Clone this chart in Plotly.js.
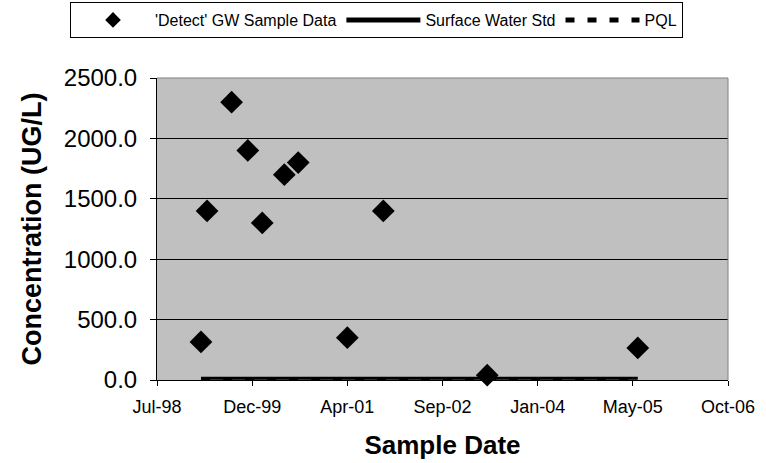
<!DOCTYPE html>
<html>
<head>
<meta charset="utf-8">
<script src="https://cdn.plot.ly/plotly-3.0.1.min.js"></script>
<style>
  html, body { margin: 0; padding: 0; background: #ffffff; }
  #chart { width: 766px; height: 463px; }
</style>
</head>
<body>
<div id="chart"></div>
<script>
// ---- data ----
const sampleDates = ['1999-03-12', '1999-04-13', '1999-08-20', '1999-11-13', '2000-01-28',
                     '2000-05-23', '2000-08-04', '2001-04-19', '2001-10-25', '2003-04-24', '2005-06-23'];
const detectValues = [315, 1400, 2300, 1900, 1300, 1700, 1800, 350, 1400, 40, 265];
const surfaceWaterStd = [15, 15, 15, 15, 15, 15, 15, 15, 15, 15, 15];
const pqlValues = [3, 3, 3, 3, 3, 3, 3, 3, 3, 3, 3];

const seriesNames = ["'Detect' GW Sample Data", 'Surface Water Std', 'PQL'];

const xTickVals = ['1998-07-24', '1999-12-06', '2001-04-19', '2002-09-01', '2004-01-14', '2005-05-28', '2006-10-10'];
const xTickText = ['Jul-98', 'Dec-99', 'Apr-01', 'Sep-02', 'Jan-04', 'May-05', 'Oct-06'];
const yTickVals = [0, 500, 1000, 1500, 2000, 2500];
const yTickText = ['0.0', '500.0', '1000.0', '1500.0', '2000.0', '2500.0'];

const xTitle = 'Sample Date';
const yTitle = 'Concentration (UG/L)';

// ---- chart ----
const FONT = 'Liberation Sans, Arial, Helvetica, sans-serif';

const traces = [
  {
    type: 'scatter', mode: 'markers', name: seriesNames[0],
    x: sampleDates, y: detectValues,
    marker: { symbol: 'diamond', size: 17.5, color: '#000000', line: { width: 0 } },
    cliponaxis: false
  },
  {
    type: 'scatter', mode: 'lines', name: seriesNames[1],
    x: sampleDates, y: surfaceWaterStd,
    line: { color: '#000000', width: 3 }
  },
  {
    type: 'scatter', mode: 'lines', name: seriesNames[2],
    x: sampleDates, y: pqlValues,
    line: { color: '#000000', width: 3, dash: '9px,13px' }
  }
];

const layout = {
  width: 766, height: 463, autosize: false,
  margin: { l: 157, r: 38, t: 78, b: 83, pad: 0, autoexpand: false },
  paper_bgcolor: '#ffffff',
  plot_bgcolor: '#c0c0c0',
  font: { family: FONT, color: '#000000' },
  showlegend: true,
  legend: {
    orientation: 'h',
    xref: 'paper', yref: 'paper',
    x: (70 - 157) / 571, xanchor: 'left',
    y: 378 / 302, yanchor: 'top',
    bgcolor: '#ffffff', bordercolor: '#000000', borderwidth: 1,
    font: { family: FONT, size: 16, color: '#000000' },
    itemsizing: 'constant',
    itemwidth: 74,
    traceorder: 'normal'
  },
  xaxis: {
    type: 'date',
    range: [xTickVals[0], xTickVals[xTickVals.length - 1]],
    tickmode: 'array', tickvals: xTickVals, ticktext: xTickText,
    ticks: 'outside', ticklen: 5, tickwidth: 1, tickcolor: '#000000',
    showline: true, linecolor: '#000000', linewidth: 1,
    showgrid: false, zeroline: false,
    tickfont: { family: FONT, size: 18, color: '#000000' },
    ticklabelstandoff: 5,
    automargin: false,
    title: { text: xTitle, font: { family: FONT, size: 26, color: '#000000', weight: 'bold' }, standoff: 20 }
  },
  yaxis: {
    range: [0, 2500],
    tickmode: 'array', tickvals: yTickVals, ticktext: yTickText,
    ticks: 'outside', ticklen: 6, tickwidth: 1, tickcolor: '#000000',
    showline: true, linecolor: '#000000', linewidth: 1,
    showgrid: true, gridcolor: '#000000', gridwidth: 1,
    zeroline: false,
    tickfont: { family: FONT, size: 24, color: '#000000' },
    ticklabelstandoff: 8,
    automargin: false,
    title: { text: yTitle, font: { family: FONT, size: 27, color: '#000000', weight: 'bold' }, standoff: 14 }
  },
  shapes: [
    { type: 'line', xref: 'paper', yref: 'paper', x0: 0, x1: 1, y0: 1, y1: 1,
      line: { color: '#808080', width: 1 }, layer: 'above' },
    { type: 'line', xref: 'paper', yref: 'paper', x0: 1, x1: 1, y0: 0, y1: 1,
      line: { color: '#808080', width: 1 }, layer: 'above' }
  ]
};

Plotly.newPlot('chart', traces, layout, { displayModeBar: false, staticPlot: true });
</script>
</body>
</html>
